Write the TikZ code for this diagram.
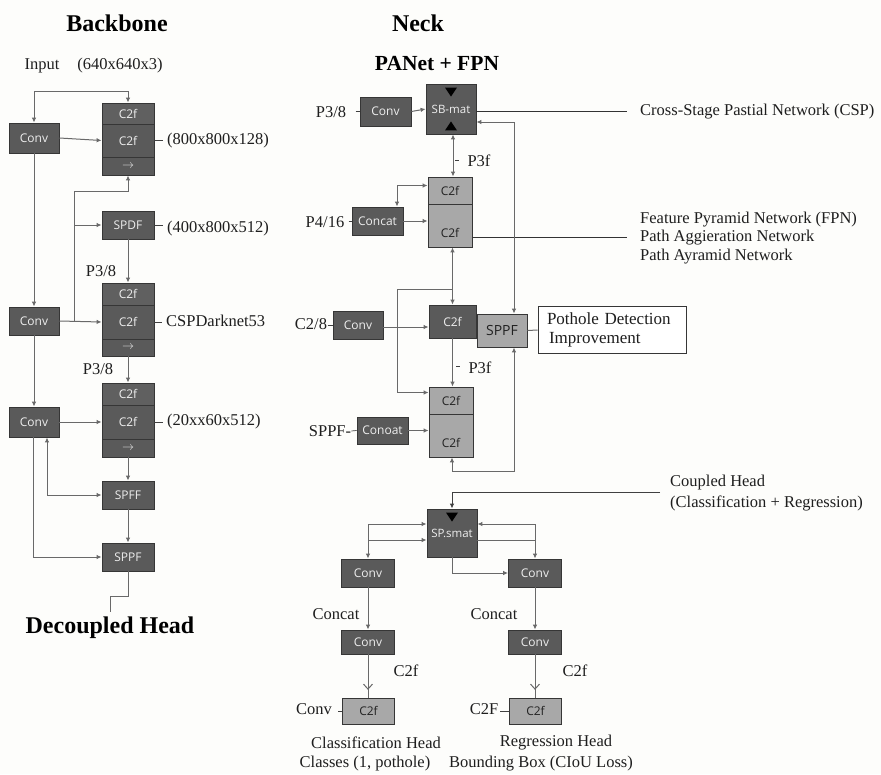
\documentclass[tikz,border=0pt]{standalone}
\usepackage{fontspec}
\setmainfont{Liberation Serif}
\newfontfamily\boxf{Open Sans}
\usetikzlibrary{arrows.meta,calc,decorations.markings}
\definecolor{bgc}{HTML}{FDFDFB}
\definecolor{dfill}{HTML}{5A5A5A}
\definecolor{dfilltop}{HTML}{606060}
\definecolor{bline}{HTML}{363636}
\definecolor{dtext}{HTML}{EEEEEE}
\definecolor{lfill}{HTML}{A8A8A8}
\definecolor{ltext}{HTML}{222222}
\definecolor{lcol}{HTML}{696969}
\definecolor{labc}{HTML}{1E1E1E}
\begin{document}
\begin{tikzpicture}[x=1pt,y=-1pt,
  sz/.style n args={2}{minimum width=#1pt,minimum height=#2pt},
  box/.style={draw=bline, line width=0.8pt, inner sep=0pt, font=\boxf\fontsize{12}{12}\selectfont},
  dbox/.style={box, fill=dfill, text=dtext},
  dtbox/.style={box, fill=dfilltop, text=dtext},
  lbox/.style={box, fill=lfill, text=ltext},
  wbox/.style={draw=bline, line width=0.8pt, fill=white, inner sep=0pt},
  conn/.style={draw=lcol, line width=1pt},
  arr/.style={conn, -{Latex[length=5pt,width=4.5pt]}},
  barr/.style={conn, {Latex[length=5pt,width=4.5pt]}-{Latex[length=5pt,width=4.5pt]}},
  yarr/.style={conn, postaction={decorate}, decoration={markings, mark=at position 0.82 with {\arrow[lcol, line width=1pt]{Straight Barb[length=5pt,width=9pt]}}}},
  lab/.style={font=\fontsize{16.5}{19}\selectfont, text=labc, inner sep=0pt},
  ttl/.style={font=\bfseries\fontsize{24}{26}\selectfont, text=black, inner sep=0pt},
  tick/.style={draw=black!75, line width=0.7pt},
  low/.style={text height=28pt, text depth=4pt}
]
\fill[bgc] (0,0) rectangle (881,774);
\useasboundingbox (0,0) rectangle (881,774);

% ================= BACKBONE =================
\node[ttl] (tBack) at (117,23) {Backbone};
\node[lab] (tInput) at (42,66) {Input};
\node[lab] (tInDim) at (120,66) {(640x640x3)};

\node[dbox, sz={50}{30}] (conv1) at (34,138) {Conv};
\node[dtbox, sz={52}{21}] (s1a) at (128,113.5) {C2f};
\node[dbox, sz={52}{33}] (s1b) at (128,140.5) {C2f};
\node[dbox, sz={52}{18}] (s1c) at (128,166) {$\rightarrow$};

\node[dbox, sz={52}{28}] (spdf) at (128,225) {SPDF};

\node[dtbox, sz={52}{22}] (s2a) at (128,294) {C2f};
\node[dbox, sz={52}{34}] (s2b) at (128,322) {C2f};
\node[dbox, sz={52}{17}] (s2c) at (128,347.5) {$\rightarrow$};
\node[dbox, sz={50}{28}] (conv2) at (34,321) {Conv};

\node[dtbox, sz={52}{22}] (s3a) at (128,394) {C2f};
\node[dbox, sz={52}{34}] (s3b) at (128,422) {C2f};
\node[dbox, sz={52}{18}] (s3c) at (128,448) {$\rightarrow$};
\node[dbox, sz={50}{30}] (conv3) at (34,422) {Conv};

\node[dbox, sz={52}{28}] (spff1) at (128,495) {SPFF};
\node[dbox, sz={52}{28}] (sppf2) at (128,557) {SPPF};

% labels
\draw[tick] (s1b.east) -- ++(9,0);
\node[lab, anchor=west] (l800) at (167,141) {(800x800x128)};
\draw[tick] (spdf.east) -- ++(9,0);
\node[lab, anchor=west] (l400) at (167,229) {(400x800x512)};
\node[lab] (lp38a) at (101,271) {P3/8};
\draw[tick] (s2b.east) -- ++(8,0);
\node[lab, anchor=west] (lcsp) at (166,321) {CSPDarknet53};
\node[lab] (lp38b) at (98,369) {P3/8};
\draw[tick] (s3b.east) -- ++(9,0);
\node[lab, anchor=west] (l20) at (167,422) {(20xx60x512)};
\node[ttl] (tDec) at (110,628) {Decoupled Head};

% connectors
\coordinate (t1) at (34,91);
\draw[barr] (conv1.north) -- (t1) -| (s1a.north);
\draw[arr] (conv1.east) -- (s1b.west);
\coordinate (b1) at (74,191);
\coordinate (j2) at (74,321);
\draw[arr] (b1) -| (s1c.south);
\draw[arr] (b1) |- (spdf.west);
\draw[conn] (b1) -- (j2);
\draw[arr] (spdf.south) -- (s2a.north);
\draw[arr] (conv2.east) -- (s2b.west);
\draw[arr] (conv1.south) -- (conv2.north);
\draw[arr] (s2c.south) -- (s3a.north);
\draw[arr] (conv2.south) -- (conv3.north);
\draw[arr] (conv3.east) -- (s3b.west);
\draw[arr] (s3c.south) -- (spff1.north);
\draw[barr] ([xshift=13pt]conv3.south) |- (spff1.west);
\draw[arr] ([xshift=-1pt]conv3.south) |- (sppf2.west);
\draw[arr] (spff1.south) -- (sppf2.north);
\coordinate (d1) at (128,596);
\coordinate (d2) at (110,596);
\coordinate (d3) at (110,612);
\draw[conn] (sppf2.south) -- (d1) -- (d2) -- (d3);

% ================= NECK =================
\node[ttl] (tNeck) at (418,23) {Neck};
\node[ttl, font=\bfseries\fontsize{21.5}{24}\selectfont] (tPan) at (437,64) {PANet + FPN};

\node[lab] (lp38n) at (331,112) {P3/8};
\node[dbox, sz={51}{29}] (nconv1) at (385.5,111.5) {Conv};
\draw[tick] ([xshift=-4pt]nconv1.west) -- (nconv1.west);
\node[dbox, sz={50}{50}, font=\boxf\fontsize{11.5}{12}\selectfont] (sb) at (451,109) {SB-mat};
\fill[black] ($(sb.north)+(-6,4)$) -- ++(12,0) -- ++(-6,9) -- cycle;
\fill[black] ($(sb.south)+(-6,-4)$) -- ++(12,0) -- ++(-6,-9) -- cycle;
\draw[arr] (nconv1.east) -- (sb.west);
\coordinate (cspE) at (627,111);
\draw[conn, draw=black!80] ([yshift=-2pt]sb.east) -- (cspE);
\node[lab, anchor=west] (lcspn) at (640,112) {Cross-Stage Pastial Network (CSP)};

\node[lbox, sz={44}{27}] (ns1a) at (450,190.5) {C2f};
\node[lbox, sz={44}{43}, low] (ns1b) at (450,225.5) {C2f};
\node[lab] (lp416) at (325,222) {P4/16};
\node[dbox, sz={51}{28}] (nconcat1) at (377.5,221) {Concat};
\draw[tick] ([xshift=-3pt]nconcat1.west) -- (nconcat1.west);
\draw[barr] ([xshift=2pt]sb.south) -- ([xshift=2pt]sb.south |- ns1a.north);
\draw[tick] (455,160) -- (459,160);
\node[lab] (lp3f1) at (479,161) {P3f};
\draw[arr] (nconcat1.east) -- (nconcat1.east -| ns1b.west);
\draw[barr] ([xshift=19.5pt]nconcat1.north) |- ([yshift=5pt]ns1a.west);
\coordinate (fpnE) at (627,237);
\draw[conn, draw=black!80] ([yshift=-11.5pt]ns1b.east) -- (fpnE);
\node[lab, anchor=west] (lfpn1) at (640,220) {Feature Pyramid Network (FPN)};
\node[lab, anchor=west] (lfpn2) at (640,238) {Path Aggieration Network};
\node[lab, anchor=west] (lfpn3) at (640,257) {Path Ayramid Network};

\node[lab] (lc28) at (311,324) {C2/8};
\node[dbox, sz={50}{28}] (nconv2) at (358,325) {Conv};
\draw[tick] ([xshift=-5pt]nconv2.west) -- (nconv2.west);
\node[dbox, sz={47}{33}] (c2fd) at (452.5,321.5) {C2f};
\node[lbox, sz={50}{33}, font=\boxf\fontsize{14}{14}\selectfont] (sppf) at (502,330.5) {SPPF};
\node[wbox, sz={148}{47}, text width=130pt, align=left, font=\fontsize{17}{20}\selectfont, text=labc] (pot) at (612,330) {Pothole Detection\\[-1pt]\hspace*{2pt}Improvement};
\draw[conn] (sppf.east) -- (pot.west);
\draw[arr] ([yshift=-2pt]nconv2.east) -- ([yshift=-2pt]nconv2.east -| c2fd.west);
\draw[barr] (c2fd.north |- ns1b.south) -- (c2fd.north);
\coordinate (jl) at (452,289);
\coordinate (jl2) at (397,289);
\node[lbox, sz={44}{27}] (ns2a) at (451,400.5) {C2f};
\node[lbox, sz={44}{43}, low] (ns2b) at (451,435.5) {C2f};
\draw[arr] (jl) -- (jl2) |- ([yshift=8pt]ns2a.west);
\draw[barr] ([yshift=-13pt]sb.east) -| ([xshift=12pt]sppf.north);
\draw[arr] (c2fd.south) -- (c2fd.south |- ns2a.north);
\draw[tick] (456,366) -- (460,366);
\node[lab] (lp3f2) at (480,368) {P3f};
\node[dbox, sz={51}{27}] (nconcat2) at (382.5,430.5) {Conoat};
\node[lab] (lsppf) at (330,431) {SPPF-};
\draw[tick] (lsppf.east) -- (nconcat2.west);
\draw[arr] (nconcat2.east) -- (nconcat2.east -| ns2b.west);
\coordinate (bl) at (514,471);
\draw[barr] ([xshift=1pt]ns2b.south) |- (bl) -| ([xshift=12pt]sppf.south);

% ================= HEAD =================
\coordinate (hd) at (660,492);
\node[lab, anchor=west] (lch1) at (670,483) {Coupled Head};
\node[lab, anchor=west] (lch2) at (670,503) {(Classification + Regression)};
\node[dbox, sz={50}{48}, font=\boxf\fontsize{11.5}{12}\selectfont] (hsp) at (452,533) {SP.smat};
\fill[black] ($(hsp.north)+(-6,4)$) -- ++(12,0) -- ++(-6,9) -- cycle;
\draw[arr, draw=black!75] (hd) -| (hsp.north);

\node[dbox, sz={53}{28}] (hconvL) at (368,573) {Conv};
\node[dbox, sz={53}{28}] (hconvR) at (535,573) {Conv};
\coordinate (hl2) at (368,540);
\coordinate (hr2) at (535,540);
\draw[barr] ([yshift=9pt]hsp.west) -| (hconvL.north);
\draw[arr] (hl2) -- ([yshift=-7pt]hsp.west);
\draw[barr] ([yshift=9pt]hsp.east) -| (hconvR.north);
\draw[conn] ([yshift=-7pt]hsp.east) -- (hr2);
\draw[arr] (hsp.south) |- (hconvR.west);

\node[dbox, sz={53}{24}] (hconv2L) at (368,642) {Conv};
\node[dbox, sz={53}{24}] (hconv2R) at (535,642) {Conv};
\node[lab] (lcatL) at (336,614) {Concat};
\node[lab] (lcatR) at (494,614) {Concat};
\draw[arr] (hconvL.south) -- (hconv2L.north);
\draw[arr] (hconvR.south) -- (hconv2R.north);

\node[lbox, sz={52}{26}] (hc2fL) at (368.5,711) {C2f};
\node[lbox, sz={52}{26}] (hc2fR) at (535.5,711) {C2f};
\draw[yarr] (hconv2L.south) -- (hconv2L.south |- hc2fL.north);
\draw[yarr] (hconv2R.south) -- (hconv2R.south |- hc2fR.north);
\node[lab] (lc2fL) at (406,671) {C2f};
\node[lab] (lc2fR) at (575,671) {C2f};
\node[lab] (lconvL) at (314,709) {Conv};
\draw[tick] ([xshift=-4pt]hc2fL.west) -- (hc2fL.west);
\node[lab] (lc2FR) at (484,709) {C2F};
\draw[tick] ([xshift=-9pt]hc2fR.west) -- (hc2fR.west);

\node[lab] (lcls1) at (376,743) {Classification Head};
\node[lab] (lcls2) at (365,764) {Classes (1, pothole)};
\node[lab] (lreg1) at (556,743) {Regression Head};
\node[lab] (lreg2) at (541,764) {Bounding Box (CIoU Loss)};
\end{tikzpicture}
\end{document}
